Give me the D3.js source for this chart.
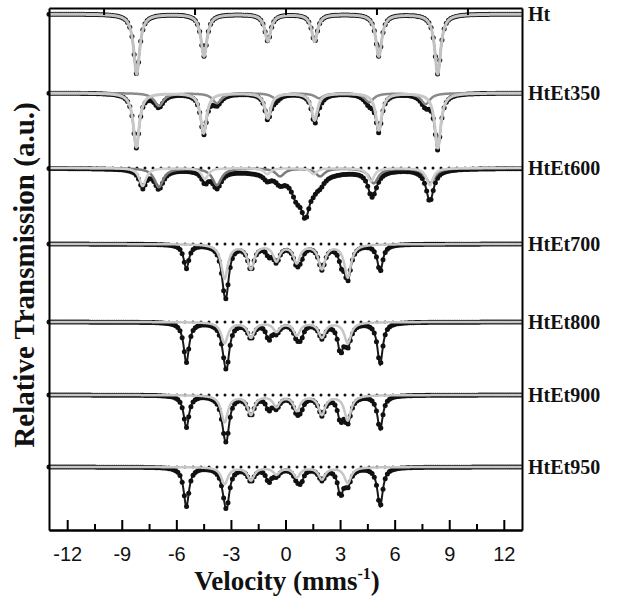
<!DOCTYPE html>
<html><head><meta charset="utf-8">
<script src="https://cdn.jsdelivr.net/npm/d3@7"></script>
<style>body{margin:0;background:#fff}svg{display:block}</style>
</head><body>
<svg id="chart" width="617" height="599"></svg>
<script>
// ---------- data ----------
const samples = ["Ht","HtEt350","HtEt600","HtEt700","HtEt800","HtEt900","HtEt950"];
// baseline of each spectrum (relative transmission, a.u.)
const baselines = [516, 437, 362, 286, 208, 135, 63];
const velocityTicks = [-12,-9,-6,-3,0,3,6,9,12];
const minorTicks = [-10.5,-7.5,-4.5,-1.5,1.5,4.5,7.5,10.5];
const topTicks = [-10,-5,0,5,10];
const velocityRange = [-13, 13];
const channelStep = 0.12;

// absorption lines: [velocity (mm/s), depth (a.u.), half width (mm/s)]
const htHematite   = [[-8.18,60,0.2],[-4.48,42,0.2],[-0.97,27,0.2],[1.6,27,0.2],[5.13,42,0.2],[8.37,60,0.2]];
const e350Hematite = [[-8.2,54,0.2],[-4.5,40,0.2],[-0.97,25,0.2],[1.6,27,0.2],[5.13,37,0.2],[8.37,55,0.2]];
const e350Magnet   = [[-6.96,13,0.3],[-3.77,10,0.3],[-0.55,5,0.3],[1.85,5,0.3],[4.6,9,0.3],[7.7,11,0.3]];
const e600SiteA    = [[-7.85,18,0.22],[-4.43,11,0.22],[-1.0,6,0.22],[1.55,6,0.22],[4.7,13,0.22],[7.93,17,0.22]];
const e600SiteB    = [[-6.96,19,0.3],[-3.77,17,0.3],[-0.3,8,0.3],[1.9,8,0.3],[4.85,15,0.3],[7.95,15,0.3]];
const e600Wustite  = [[0.6,18,0.35],[1.1,36,0.3]];
const e600Broad    = [[0.8,6,3.5]];
const e700Fe3C     = [[-3.35,34,0.22],[-1.9,24,0.22],[-0.5,16,0.22],[0.62,18,0.22],[2.0,24,0.22],[3.42,33,0.22]];
const e700Fe       = [[-5.45,24,0.18],[-3.24,24,0.18],[-0.92,8,0.18],[0.85,8,0.18],[3.08,14,0.18],[5.2,27,0.18]];
const e800Fe3C     = [[-3.35,21,0.22],[-1.9,15,0.22],[-0.5,9,0.22],[0.62,13,0.22],[2.0,15,0.22],[3.42,21,0.22]];
const e800Fe       = [[-5.45,40,0.18],[-3.22,30,0.18],[-0.92,15,0.18],[0.85,11,0.18],[3.02,26,0.18],[5.2,42,0.18]];
const e900Fe3C     = [[-3.35,27,0.22],[-1.9,19,0.22],[-0.5,11,0.22],[0.62,15,0.22],[2.0,19,0.22],[3.42,25,0.22]];
const e900Fe       = [[-5.45,32,0.18],[-3.22,24,0.18],[-0.92,12,0.18],[0.85,9,0.18],[3.02,21,0.18],[5.2,34,0.18]];
const e950Fe3C     = [[-3.35,17,0.22],[-1.9,13,0.22],[-0.5,7,0.22],[0.62,10,0.22],[2.0,12,0.22],[3.42,16,0.22]];
const e950Fe       = [[-5.45,39,0.18],[-3.22,28,0.18],[-0.92,13,0.18],[0.85,11,0.18],[3.02,25,0.18],[5.2,39,0.18]];

// ---------- layout ----------
const svg = d3.select("#chart");
const x = d3.scaleLinear().domain(velocityRange).range([49, 522]);
const y = d3.scaleLinear().domain([0, 522]).range([530, 8]);

const spectra = [
  {name:samples[0], base:baselines[0], dotted:false, comps:[{lines:htHematite, color:"#c2c2c2", w:3}]},
  {name:samples[1], base:baselines[1], dotted:false, comps:[{lines:e350Magnet, color:"#8a8a8a", w:2.5},{lines:e350Hematite, color:"#c8c8c8", w:3}]},
  {name:samples[2], base:baselines[2], dotted:true, comps:[{lines:e600SiteB, color:"#7c7c7c", w:2.5},{lines:e600SiteA, color:"#cfcfcf", w:2.5},{lines:e600Wustite, hidden:true},{lines:e600Broad, hidden:true}]},
  {name:samples[3], base:baselines[3], dotted:true, comps:[{lines:e700Fe, under:true},{lines:e700Fe3C, color:"#c6c6c6", w:2.5}]},
  {name:samples[4], base:baselines[4], dotted:true, comps:[{lines:e800Fe, under:true},{lines:e800Fe3C, color:"#c6c6c6", w:2.5}]},
  {name:samples[5], base:baselines[5], dotted:true, comps:[{lines:e900Fe, under:true},{lines:e900Fe3C, color:"#c6c6c6", w:2.5}]},
  {name:samples[6], base:baselines[6], dotted:true, comps:[{lines:e950Fe, under:true},{lines:e950Fe3C, color:"#c6c6c6", w:2.5}]}
];

const absorb = (v, lines) => d3.sum(lines, ([c,d,g]) => d / (1 + ((v - c) / g) ** 2));
const fine = d3.range(velocityRange[0], velocityRange[1] + 1e-9, 0.02);
const channels = d3.range(velocityRange[0], velocityRange[1] + 1e-9, channelStep);

const plot = svg.append("g");
spectra.forEach(s => {
  const g = plot.append("g");
  const total = v => s.comps.reduce((a, c) => a + absorb(v, c.lines), 0);
  if (s.dotted) {
    g.append("path")
      .attr("d", d3.line()(velocityRange.map(v => [x(v), y(s.base)])))
      .attr("stroke", "#111").attr("stroke-width", 3).attr("stroke-linecap", "round")
      .attr("stroke-dasharray", "0,8").attr("fill", "none");
  }
  // total fit (black) underneath the data
  g.append("path").attr("fill","none").attr("stroke", "#1a1a1a").attr("stroke-width", 2)
    .attr("d", d3.line().x(v => x(v)).y(v => y(s.base - total(v)))(fine));
  g.selectAll("circle").data(channels).join("circle")
    .attr("cx", v => x(v)).attr("cy", v => y(s.base - total(v)))
    .attr("r", 2.5).attr("fill", "#111");
  s.comps.filter(c => !c.under && !c.hidden).forEach(c => {
    g.append("path").attr("fill","none").attr("stroke", c.color).attr("stroke-width", c.w)
      .attr("stroke-linejoin","round")
      .attr("d", d3.line().x(v => x(v)).y(v => y(s.base - absorb(v, c.lines)))(fine));
  });
  svg.append("text").attr("x", 528).attr("y", y(s.base)).attr("dy", "0.35em")
    .attr("font-family", "'Liberation Serif','Times New Roman',serif").attr("font-weight", "bold")
    .attr("font-size", 20).attr("fill", "#111").text(s.name);
});

// ---------- axes ----------
const axStyle = g => { g.select(".domain").attr("stroke-width", 2); g.selectAll(".tick line").attr("stroke-width", 2); };
svg.append("g").attr("transform", "translate(0,530)")
  .call(d3.axisBottom(x).tickValues(velocityTicks).tickSize(-10).tickSizeOuter(0).tickPadding(17).tickFormat(d => String(d)))
  .call(axStyle)
  .call(g => g.selectAll("text").attr("font-family", "'Liberation Sans',Arial,sans-serif").attr("font-size", 20).attr("fill", "#111"));
svg.append("g").attr("transform", "translate(0,530)")
  .call(d3.axisBottom(x).tickValues(minorTicks).tickSize(-6).tickSizeOuter(0).tickFormat(""))
  .call(axStyle);
svg.append("g").attr("transform", "translate(0,8)")
  .call(d3.axisTop(x).tickValues(topTicks).tickSize(-7).tickSizeOuter(0).tickFormat(""))
  .call(axStyle);
svg.append("g").attr("transform", "translate(49,0)")
  .call(d3.axisLeft(y).tickValues([]).tickSizeOuter(0)).call(axStyle);
svg.append("g").attr("transform", "translate(522,0)")
  .call(d3.axisRight(y).tickValues([]).tickSizeOuter(0)).call(axStyle);

// ---------- titles ----------
const xt = svg.append("text").attr("x", 287).attr("y", 590).attr("text-anchor", "middle")
  .attr("font-family", "'Liberation Serif','Times New Roman',serif").attr("font-weight", "bold")
  .attr("font-size", 27).attr("fill", "#111");
xt.append("tspan").text("Velocity (mms");
xt.append("tspan").attr("dy", -11).attr("font-size", 16).text("-1");
xt.append("tspan").attr("dy", 11).text(")");
svg.append("text").attr("transform", "translate(34,275) rotate(-90)").attr("text-anchor", "middle")
  .attr("font-family", "'Liberation Serif','Times New Roman',serif").attr("font-weight", "bold")
  .attr("font-size", 29).attr("fill", "#111").text("Relative Transmission (a.u.)");
</script>
</body></html>
